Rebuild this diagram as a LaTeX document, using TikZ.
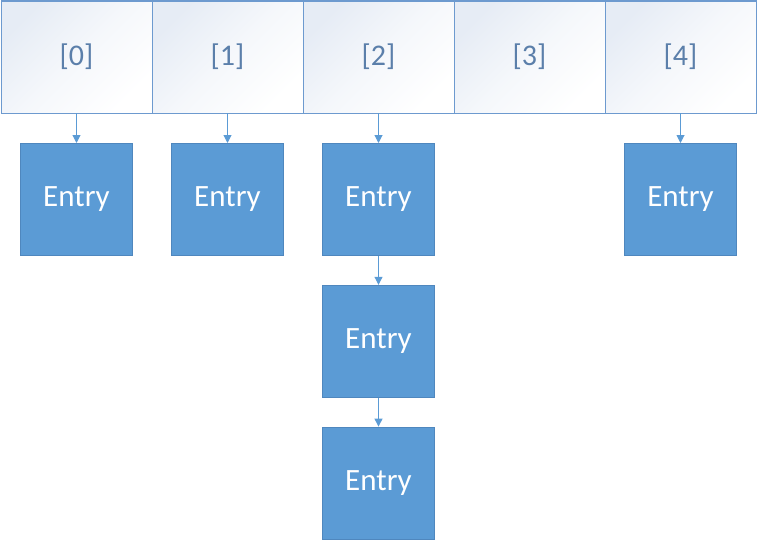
\documentclass[tikz,border=0pt]{standalone}
\usepackage{fontspec}
\setmainfont{Carlito}
\usepackage{xcolor}
\usetikzlibrary{arrows.meta, positioning}

\definecolor{entryblue}{HTML}{5B9BD5}
\definecolor{entryedge}{HTML}{4F87BE}
\definecolor{celledge}{HTML}{6D9ACF}
\definecolor{celltext}{HTML}{5B7FAA}
\definecolor{cellshade}{HTML}{E6ECF5}

\begin{document}
\begin{tikzpicture}[
        node distance=29pt,
        >={Triangle[length=8pt, width=8pt]},
        cellbox/.style={rectangle, draw=celledge, line width=1pt, outer sep=0pt,
            shading=axis, top color=cellshade, bottom color=white, middle color=white!60!cellshade,
            shading angle=45,
            minimum width=151pt, minimum height=112pt, text=celltext,
            font=\fontsize{30}{36}\selectfont},
        entrybox/.style={rectangle, draw=entryedge, line width=0.8pt, fill=entryblue,
            minimum size=112pt, text=white, font=\fontsize{31}{37}\selectfont},
        arrow/.style={->, line width=1pt, entryblue}
    ]

    \useasboundingbox (0,0) rectangle (757pt,-546pt);

    % --- Table cells ---
    \node[cellbox] (cell0) at (76.5pt,-57pt) {[0]};
    \node[cellbox, right=0pt of cell0] (cell1) {[1]};
    \node[cellbox, right=0pt of cell1] (cell2) {[2]};
    \node[cellbox, right=0pt of cell2] (cell3) {[3]};
    \node[cellbox, right=0pt of cell3] (cell4) {[4]};

    % --- Entries ---
    \node[entrybox, below=30pt of cell0] (entry0) {Entry};
    \node[entrybox, below=30pt of cell1] (entry1) {Entry};
    \node[entrybox, below=30pt of cell2] (entry2) {Entry};
    \node[entrybox, below=of entry2] (entry2b) {Entry};
    \node[entrybox, below=of entry2b] (entry2c) {Entry};
    \node[entrybox, below=30pt of cell4] (entry4) {Entry};

    % --- Links ---
    \draw[arrow] (cell0.south) -- (entry0.north);
    \draw[arrow] (cell1.south) -- (entry1.north);
    \draw[arrow] (cell2.south) -- (entry2.north);
    \draw[arrow] (entry2.south) -- (entry2b.north);
    \draw[arrow] (entry2b.south) -- (entry2c.north);
    \draw[arrow] (cell4.south) -- (entry4.north);

\end{tikzpicture}
\end{document}
